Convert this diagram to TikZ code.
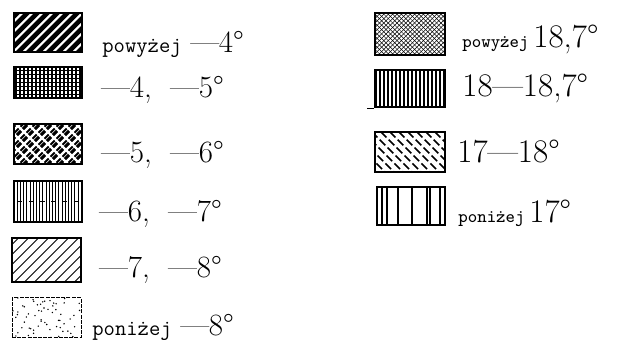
\documentclass[tikz,border=0pt]{standalone}
\usepackage{tikz}
\usetikzlibrary{positioning}

\tikzset{
  swatch/.style={rectangle, draw, line width=0.8pt, minimum width=34pt, minimum height=20pt, inner sep=0pt},
  num/.style={font=\fontsize{15.5}{17}\selectfont, inner sep=0pt},
  bignum/.style={font=\fontsize{16.5}{18}\selectfont, inner sep=0pt},
  word/.style={font=\ttfamily\fontsize{11}{12}\selectfont, inner sep=0pt},
  smallword/.style={font=\ttfamily\fontsize{9}{10}\selectfont, inner sep=0pt},
  % fill patterns, drawn inside the swatch
  bold hatch/.style={path picture={
    \foreach \i in {-45,-40,...,45}
      \draw[line width=2.3pt] ([xshift=\i pt]path picture bounding box.center) +(-22pt,-22pt) -- +(22pt,22pt);}},
  fine grid/.style={path picture={
    \foreach \i in {-18,-16,...,18}
      \draw[line width=0.9pt] ([xshift=\i pt]path picture bounding box.center) +(0,-12pt) -- +(0,12pt);
    \foreach \i in {-12,-10,...,12}
      \draw[line width=0.9pt] ([yshift=\i pt]path picture bounding box.center) +(-18pt,0) -- +(18pt,0);}},
  plaid/.style={fill=black, path picture={
    \foreach \i in {-48,-42,...,48}{
      \draw[white, line width=1.1pt] ([xshift=\i pt]path picture bounding box.center) +(-22pt,-22pt) -- +(22pt,22pt);
      \draw[white, line width=1.1pt] ([xshift=\i pt]path picture bounding box.center) +(-22pt,22pt) -- +(22pt,-22pt);
      \draw[white, line width=0.3pt] ([xshift=\i pt+2.6pt]path picture bounding box.center) +(-22pt,-22pt) -- +(22pt,22pt);}}},
  h bars/.style={path picture={
    \foreach \i in {-17,-15.4,...,17}
      \draw[line width=0.5pt] ([xshift=\i pt]path picture bounding box.center) +(0,-12pt) -- +(0,12pt);
    \foreach \i in {-14,-8.4,...,16}
      \draw[line width=0.6pt] ([xshift=\i pt]path picture bounding box.center) +(-1.2pt,0) -- +(1.2pt,0);}},
  thin hatch/.style={path picture={
    \foreach \i in {-45,-40,...,45}
      \draw[line width=0.5pt] ([xshift=\i pt]path picture bounding box.center) +(-22pt,-22pt) -- +(22pt,22pt);}},
  dots/.style={path picture={
    \pgfmathsetseed{5}
    \foreach \k in {1,...,60}{
      \pgfmathsetmacro\a{rnd*34}\pgfmathsetmacro\b{rnd*20}
      \fill ([shift={(\a pt,\b pt)}]path picture bounding box.south west) circle (0.4pt);}}},
  cross hatch/.style={path picture={
    \foreach \i in {-45,-42.8,...,45}{
      \draw[line width=0.25pt] ([xshift=\i pt]path picture bounding box.center) +(-22pt,-22pt) -- +(22pt,22pt);
      \draw[line width=0.25pt] ([xshift=\i pt]path picture bounding box.center) +(-22pt,22pt) -- +(22pt,-22pt);}}},
  dense bars/.style={path picture={
    \foreach \i in {-17,-15,...,17}
      \draw[line width=1.1pt] ([xshift=\i pt]path picture bounding box.center) +(0,-12pt) -- +(0,12pt);}},
  broken hatch/.style={path picture={
    \foreach \i in {-45,-40.5,...,45}
      \draw[line width=0.8pt, dash pattern=on 4pt off 1.6pt] ([xshift=\i pt]path picture bounding box.center) +(-22pt,22pt) -- +(22pt,-22pt);}},
  open bars/.style={path picture={
    \foreach \i in {2.5,5,10.5,17.5,25,26.5,31.5}
      \draw[line width=0.6pt] ([xshift=\i pt]path picture bounding box.south west) -- ([xshift=\i pt]path picture bounding box.north west);}},
}

\begin{document}
\begin{tikzpicture}[x=0.5pt, y=-0.5pt]
\useasboundingbox (0,0) rectangle (625,340);

% left column
\node[swatch, bold hatch, line width=1.2pt, minimum height=19.5pt] (p1) at (48,32.5) {};
\node[swatch, fine grid, minimum height=15.5pt] (p2) at (48,82.5) {};
\node[swatch, plaid, minimum height=20pt] (p3) at (48,144) {};
\node[swatch, h bars, minimum height=20.5pt] (p4) at (48,201.5) {};
\node[swatch, thin hatch, minimum width=34.5pt, minimum height=22pt] (p5) at (46.5,260) {};
\node[swatch, dots, line width=0.5pt, dash pattern=on 2pt off 0.6pt, minimum width=34.5pt, minimum height=20pt] (p6) at (46.5,318) {};

\node[word, anchor=base west] (w1) at (102,53) {powyżej};
\node[num, right=4pt of w1.base east, anchor=base west] (n1) {---4\textdegree};
\node[num, anchor=base west] (n2) at (101,98) {---4,\hspace{0.6em}---5\textdegree};
\node[num, anchor=base west] (n3) at (101,163) {---5,\hspace{0.6em}---6\textdegree};
\node[num, anchor=base west] (n4) at (99,222) {---6,\hspace{0.6em}---7\textdegree};
\node[num, anchor=base west] (n5) at (99,278) {---7,\hspace{0.6em}---8\textdegree};
\node[word, anchor=base west] (w6) at (92,336) {poniżej};
\node[num, right=4pt of w6.base east, anchor=base west] (n6) {---8\textdegree};

% right column
\node[swatch, cross hatch, line width=1.2pt, minimum width=35pt, minimum height=21pt] (q1) at (410,34) {};
\node[swatch, dense bars, line width=1.4pt, minimum width=35pt, minimum height=18.5pt] (q2) at (410,88.5) {};
\draw[line width=0.8pt] (q2.south west) -- ++(-7,0);
\node[swatch, broken hatch, minimum width=35pt, minimum height=20pt] (q3) at (410,152) {};
\node[swatch, open bars, minimum width=34pt, minimum height=19pt] (q4) at (411,206) {};

\node[smallword, anchor=base west] (w7) at (462,48) {powyżej};
\node[bignum, right=2pt of w7.base east, anchor=base west] (n7) {18,7\textdegree};
\node[bignum, anchor=base west] (n8) at (462,97) {18---18,7\textdegree};
\node[bignum, anchor=base west] (n9) at (457,163) {17---18\textdegree};
\node[smallword, anchor=base west] (w10) at (458,223) {poniżej};
\node[bignum, right=2pt of w10.base east, anchor=base west] (n10) {17\textdegree};
\end{tikzpicture}
\end{document}
